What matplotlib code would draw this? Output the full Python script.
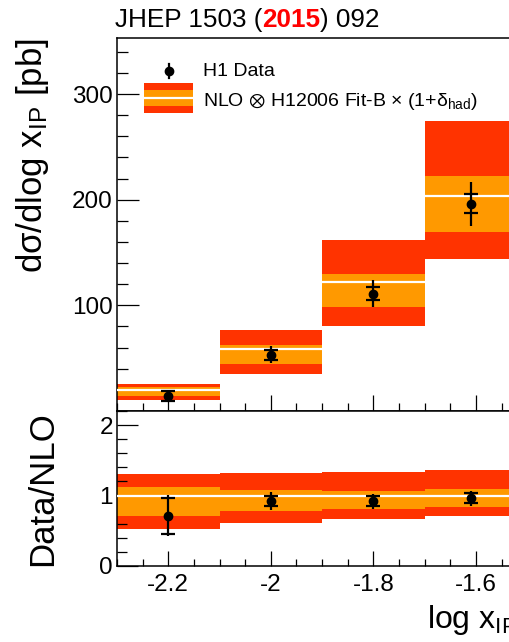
import numpy as np
import matplotlib
matplotlib.use("Agg")
import matplotlib.pyplot as plt
from matplotlib.patches import Rectangle
from matplotlib.lines import Line2D
from matplotlib.ticker import MultipleLocator, FuncFormatter

plt.rcParams['font.family'] = ['Liberation Sans', 'DejaVu Sans']
plt.rcParams['mathtext.fontset'] = 'custom'
plt.rcParams['mathtext.rm'] = 'Liberation Sans'
plt.rcParams['mathtext.it'] = 'Liberation Sans:italic'
plt.rcParams['mathtext.bf'] = 'Liberation Sans:bold'
plt.rcParams['mathtext.fallback'] = 'stixsans'
plt.rcParams['axes.unicode_minus'] = False

# ---------------- data ----------------
bin_edges = [-2.3, -2.1, -1.9, -1.7, -1.52]
x_points = [-2.2, -2.0, -1.8, -1.61]

# cross section (pb)
data_xs = [14.0, 53.3, 111.0, 196.0]
data_xs_stat = [5.0, 4.8, 6.3, 9.0]
data_xs_tot = [5.0, 8.0, 13.0, 21.0]
nlo_central = [20.0, 58.6, 122.0, 203.6]
nlo_inner_lo = [14.2, 44.7, 98.6, 169.0]
nlo_inner_hi = [22.4, 62.5, 130.0, 222.0]
nlo_outer_lo = [10.4, 35.3, 80.4, 143.4]
nlo_outer_hi = [25.8, 76.3, 161.6, 274.7]

# ratio Data/NLO
ratio_data = [0.715, 0.925, 0.92, 0.963]
ratio_stat = [0.256, 0.072, 0.07, 0.067]
ratio_tot = [0.29, 0.13, 0.105, 0.105]
ratio_inner_lo = [0.715, 0.78, 0.806, 0.835]
ratio_inner_hi = [1.12, 1.08, 1.067, 1.09]
ratio_outer_lo = [0.526, 0.616, 0.668, 0.71]
ratio_outer_hi = [1.304, 1.32, 1.333, 1.356]
ratio_central = [1.0, 1.0, 1.0, 1.0]

x_tick_labels = ["-2.2", "-2", "-1.8", "-1.6"]

RED = "#ff3300"
ORANGE = "#ff9900"

W, H = 509, 642
fig = plt.figure(figsize=(W / 100, H / 100), dpi=100)


def fx(px):
    return px / W


def fy(py):
    return 1 - py / H


ax_l, ax_r = 117, 517
ax1 = fig.add_axes([fx(ax_l), fy(411), fx(ax_r - ax_l), (411 - 38) / H])
ax2 = fig.add_axes([fx(ax_l), fy(566), fx(ax_r - ax_l), (566 - 411) / H])

edges = np.array(bin_edges)
lefts = edges[:-1]
widths = np.diff(edges)


def draw_bands(ax, olo, ohi, ilo, ihi, cen):
    olo, ohi, ilo, ihi = map(np.array, (olo, ohi, ilo, ihi))
    ax.bar(lefts, ohi - olo, bottom=olo, width=widths, align='edge',
           color=RED, linewidth=0, zorder=1)
    ax.bar(lefts, ihi - ilo, bottom=ilo, width=widths, align='edge',
           color=ORANGE, linewidth=0, zorder=2)
    ax.hlines(cen, lefts, edges[1:], colors='white', linewidth=1.6, zorder=3)


def draw_points(ax, y, stat, tot):
    ax.errorbar(x_points, y, yerr=tot, fmt='o', color='black', ms=6,
                elinewidth=1.6, capsize=0, zorder=5)
    ax.errorbar(x_points, y, yerr=stat, fmt='none', ecolor='black',
                elinewidth=0, capsize=5, capthick=1.6, zorder=5)


draw_bands(ax1, nlo_outer_lo, nlo_outer_hi, nlo_inner_lo, nlo_inner_hi, nlo_central)
draw_points(ax1, data_xs, data_xs_stat, data_xs_tot)
draw_bands(ax2, ratio_outer_lo, ratio_outer_hi, ratio_inner_lo, ratio_inner_hi, ratio_central)
draw_points(ax2, ratio_data, ratio_stat, ratio_tot)

for ax in (ax1, ax2):
    ax.set_xlim(bin_edges[0], bin_edges[-1])
    ax.xaxis.set_major_locator(MultipleLocator(0.2))
    ax.xaxis.set_minor_locator(MultipleLocator(0.05))
    ax.spines['right'].set_visible(False)
    for s in ('left', 'bottom', 'top'):
        ax.spines[s].set_linewidth(1.1)
    ax.tick_params(which='both', direction='in', top=False, right=False,
                   width=0.9, labelsize=17.5)

ax1.set_ylim(0, 353)
ax1.yaxis.set_major_locator(MultipleLocator(100))
ax1.yaxis.set_minor_locator(MultipleLocator(20))
ax1.yaxis.set_major_formatter(FuncFormatter(lambda v, p: "" if v == 0 else "%d" % v))
ax1.tick_params(axis='y', which='major', length=15.8, pad=3)
ax1.tick_params(axis='y', which='minor', length=7.9)
ax1.tick_params(axis='x', which='major', length=11.5, labelbottom=False)
ax1.tick_params(axis='x', which='minor', length=5.8)

ax2.set_ylim(0, 2.2)
ax2.yaxis.set_major_locator(MultipleLocator(1))
ax2.yaxis.set_minor_locator(MultipleLocator(0.2))
ax2.yaxis.set_major_formatter(FuncFormatter(lambda v, p: "%d" % round(v)))
ax2.set_xticks([-2.2, -2.0, -1.8, -1.6])
ax2.set_xticklabels(x_tick_labels)
ax2.tick_params(axis='y', which='major', length=15, pad=3)
ax2.tick_params(axis='y', which='minor', length=7.2)
ax2.tick_params(axis='x', which='major', length=10.8, pad=6)
ax2.tick_params(axis='x', which='minor', length=5)

# axis titles
fig.text(fx(33), fy(38), "d\u03c3/dlog x$_{\\mathrm{IP}}$ [pb]", rotation=90,
         ha='center', va='top', fontsize=25)
fig.text(fx(43), fy(411), "Data/NLO", rotation=90, ha='center', va='top', fontsize=25)
fig.text(fx(ax_r), fy(628), "log x$_{\\mathrm{IP}}$", ha='right', va='baseline', fontsize=23)

# title with red year
renderer = fig.canvas.get_renderer()
parts = [("JHEP 1503 (", 'black', 'normal'), ("2015", '#ff0000', 'bold'),
         (") 092", 'black', 'normal')]
xpos = 115
for txt, col, wt in parts:
    t = fig.text(fx(xpos), fy(27), txt, color=col, fontweight=wt, fontsize=18.8,
                 ha='left', va='baseline')
    bb = t.get_window_extent(renderer)
    xpos += bb.width

# legend (figure coordinates)
fig.add_artist(Line2D([fx(169), fx(169)], [fy(64), fy(78)], color='black', lw=1.6))
fig.add_artist(Line2D([fx(169)], [fy(70.7)], marker='o', ms=6, color='black'))
fig.text(fx(203), fy(76), "H1 Data", fontsize=14, ha='left', va='baseline')
fig.add_artist(Rectangle((fx(144), fy(113)), fx(49), (113 - 83.3) / H,
                         transform=fig.transFigure, color=RED, lw=0))
fig.add_artist(Rectangle((fx(144), fy(106)), fx(49), (106 - 90) / H,
                         transform=fig.transFigure, color=ORANGE, lw=0))
fig.add_artist(Line2D([fx(144), fx(193)], [fy(98.3), fy(98.3)], color='white', lw=1.6))
fig.text(fx(203), fy(106), "NLO $\\otimes$ H12006 Fit-B \u00d7 (1+\u03b4$_{\\mathrm{had}}$)",
         fontsize=14, ha='left', va='baseline')

fig.savefig("out.png", dpi=100)
